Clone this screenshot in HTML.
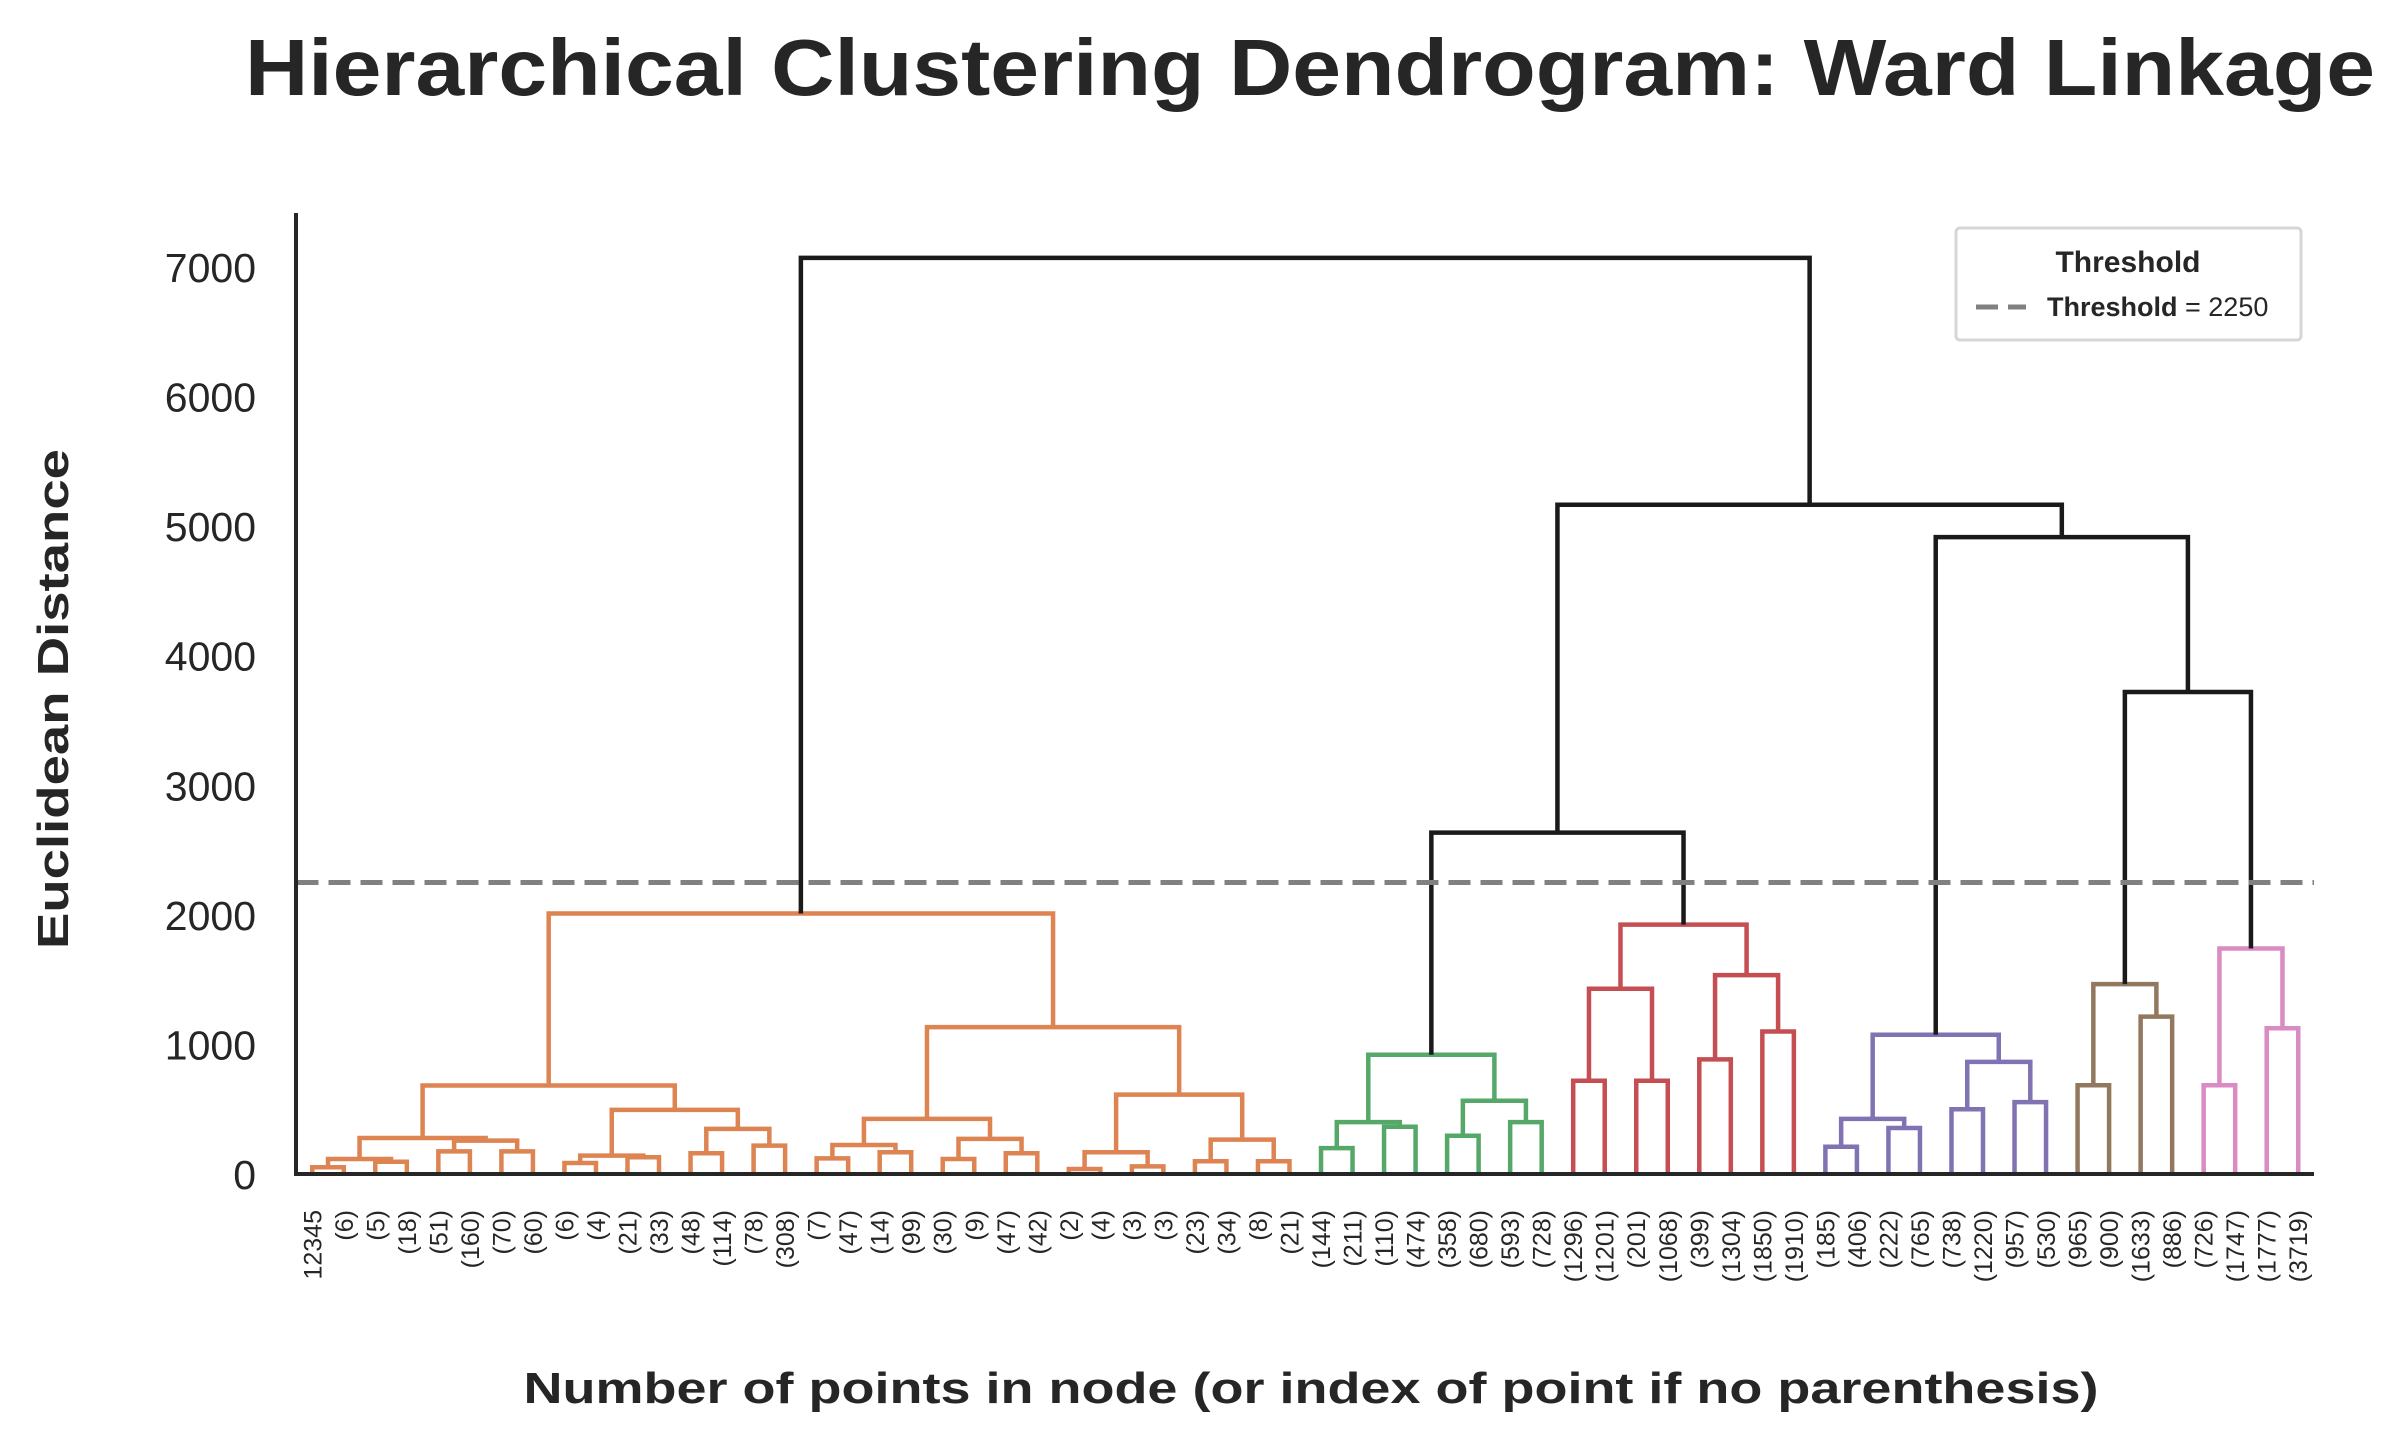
<!DOCTYPE html>
<html><head><meta charset="utf-8"><style>
html,body{margin:0;padding:0;background:#fff;}
svg{display:block;font-family:"Liberation Sans",sans-serif;}
</style></head><body>
<svg id="chart" width="2397" height="1441" viewBox="0 0 2397 1441" xmlns="http://www.w3.org/2000/svg">
<rect width="2397" height="1441" fill="#fff"/>
<text x="1310" y="95" text-anchor="middle" font-size="80" font-weight="bold" fill="#262626" textLength="2130" lengthAdjust="spacingAndGlyphs">Hierarchical Clustering Dendrogram: Ward Linkage</text>
<text transform="translate(68,699) rotate(-90)" text-anchor="middle" font-size="44" font-weight="bold" fill="#262626" textLength="500" lengthAdjust="spacingAndGlyphs">Euclidean Distance</text>
<text x="1311" y="1403" text-anchor="middle" font-size="44" font-weight="bold" fill="#262626" textLength="1575" lengthAdjust="spacingAndGlyphs">Number of points in node (or index of point if no parenthesis)</text>
<g id="links"></g>
<g id="yticks"></g>
<g id="leaves"></g>
<line id="thr" stroke="#808080" stroke-width="5" stroke-dasharray="22,10"/>
<line x1="296" y1="213" x2="296" y2="1176" stroke="#262626" stroke-width="4"/>
<line x1="294" y1="1174" x2="2314" y2="1174" stroke="#262626" stroke-width="4"/>
<g>
<rect x="1956" y="228" width="345" height="112" rx="4" fill="#fff" stroke="#d6d6d6" stroke-width="3"/>
<text x="2128" y="272" text-anchor="middle" font-size="30" font-weight="bold" fill="#262626">Threshold</text>
<line x1="1976" y1="307" x2="2026" y2="307" stroke="#808080" stroke-width="5" stroke-dasharray="22,10"/>
<text x="2047" y="316" font-size="27" fill="#262626"><tspan font-weight="bold">Threshold</tspan> = 2250</text>
</g>
</svg>
<script>
const leafLabels = ["12345","(6)","(5)","(18)","(51)","(160)","(70)","(60)","(6)","(4)","(21)","(33)","(48)","(114)","(78)","(308)","(7)","(47)","(14)","(99)","(30)","(9)","(47)","(42)","(2)","(4)","(3)","(3)","(23)","(34)","(8)","(21)","(144)","(211)","(110)","(474)","(358)","(680)","(593)","(728)","(1296)","(1201)","(201)","(1068)","(399)","(1304)","(1850)","(1910)","(185)","(406)","(222)","(765)","(738)","(1220)","(957)","(530)","(965)","(900)","(1633)","(886)","(726)","(1747)","(1777)","(3719)"];
const mergeLeft  = [0,2,64,4,6,67,66,8,10,71,12,14,74,73,70,16,18,79,20,22,82,81,24,26,86,28,30,89,88,85,78, 32,34,95,36,38,98,97, 40,42,102,44,46,105,104,101, 48,50,110,52,54,113,112, 56,58,117, 60,62,120,119,116,109,94];
const mergeRight = [1,3,65,5,7,68,69,9,11,72,13,15,75,76,77,17,19,80,21,23,83,84,25,27,87,29,31,90,91,92,93, 33,35,96,37,39,99,100, 41,43,103,45,47,106,107,108, 49,51,111,53,55,114,115, 57,59,118, 61,63,121,122,123,124,125];
const mergeHeight= [52,95,116,175,175,258,278,85,129,142,160,219,348,495,683,121,168,224,116,160,271,425,39,59,168,98,98,265,613,1134,2010, 200,365,400,295,400,565,920, 720,720,1430,885,1100,1535,1925,2635, 210,355,425,500,555,865,1075, 685,1215,1465, 685,1125,1740,3720,4915,5165,7070];
const yTicks = [0,1000,2000,3000,4000,5000,6000,7000];
const threshold = 2250;
const clusterColors = ["#dd8452","#55a868","#c44e52","#8172b3","#937860","#da8bc3"];
const aboveColor = "#1a1a1a";

const NS="http://www.w3.org/2000/svg";
const X0=296.5, X1=2314, Y0=1174, PXU=(1174-267)/7000;
const nLeaves=leafLabels.length;
function xScale(u){return X0+(u/(nLeaves*10))*(X1-X0);}
function yScale(v){return Y0-v*PXU;}
const posX={}, posH={};
for(let i=0;i<nLeaves;i++){posX[i]=xScale(5+10*i);posH[i]=0;}
for(let k=0;k<mergeLeft.length;k++){
  const id=nLeaves+k;
  posX[id]=(posX[mergeLeft[k]]+posX[mergeRight[k]])/2;
  posH[id]=mergeHeight[k];
}
const color={}; let ci=0;
function assign(id,c){
  if(id<nLeaves) return;
  const k=id-nLeaves;
  if(c===null && mergeHeight[k]<threshold){ c=clusterColors[ci%clusterColors.length]; ci++; }
  color[id]= c===null?aboveColor:c;
  assign(mergeLeft[k],c); assign(mergeRight[k],c);
}
assign(nLeaves+mergeLeft.length-1,null);
const links=document.getElementById('links');
for(let k=0;k<mergeLeft.length;k++){
  const id=nLeaves+k, l=mergeLeft[k], r=mergeRight[k];
  const p=document.createElementNS(NS,'path');
  
  
  p.setAttribute('d',`M${posX[l]},${yScale(posH[l])}V${yScale(mergeHeight[k])}H${posX[r]}V${yScale(posH[r])}`);
  p.setAttribute('fill','none');p.setAttribute('stroke',color[id]);p.setAttribute('stroke-width','4.5');
  links.appendChild(p);
}
const yt=document.getElementById('yticks');
yTicks.forEach(v=>{
  const t=document.createElementNS(NS,'text');
  
  
  t.setAttribute('x',256);t.setAttribute('y',yScale(v)+15);
  t.setAttribute('text-anchor','end');t.setAttribute('font-size','41');t.setAttribute('fill','#262626');
  t.textContent=v; yt.appendChild(t);
});
const lv=document.getElementById('leaves');
leafLabels.forEach((s,i)=>{
  const t=document.createElementNS(NS,'text');
  
  
  const x=posX[i]+9;
  t.setAttribute('transform',`translate(${x},1210) rotate(-90)`);
  t.setAttribute('text-anchor','end');t.setAttribute('font-size','25');t.setAttribute('fill','#262626');
  t.textContent=s; lv.appendChild(t);
});
const th=document.getElementById('thr');
th.setAttribute('x1',X0);th.setAttribute('x2',X1);
th.setAttribute('y1',yScale(threshold));th.setAttribute('y2',yScale(threshold));
</script>
</body></html>
